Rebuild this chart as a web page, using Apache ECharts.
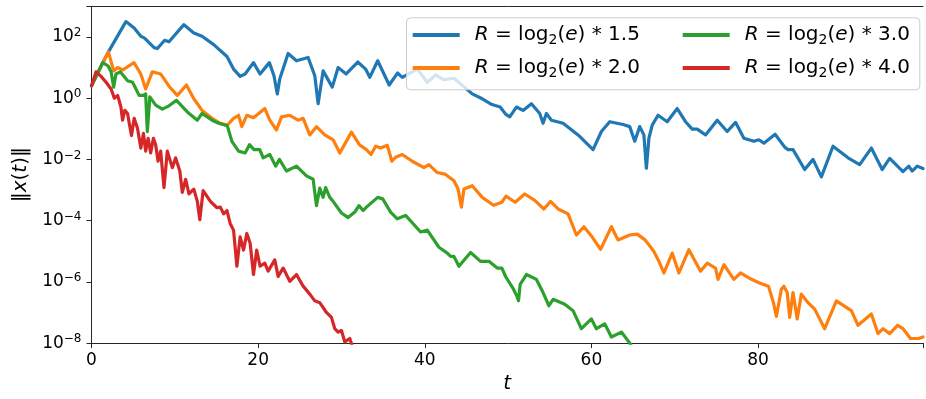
<!DOCTYPE html>
<html>
<head>
<meta charset="utf-8">
<script src="https://cdn.jsdelivr.net/npm/echarts@6/dist/echarts.min.js"></script>
<style>html,body{margin:0;padding:0;background:#fff}#c{width:926px;height:399px}</style>
</head>
<body>
<div id="c"></div>
<script>
// ---- data (t, log10 of ||x(t)||) ----
var seriesNames = ['R = log2(e) * 1.5', 'R = log2(e) * 2.0', 'R = log2(e) * 3.0', 'R = log2(e) * 4.0'];
var legendLabels = [
  '{p|R} = log{s|2}({i|e}) * 1.5',
  '{p|R} = log{s|2}({i|e}) * 2.0',
  '{p|R} = log{s|2}({i|e}) * 3.0',
  '{p|R} = log{s|2}({i|e}) * 4.0'
];
var xTicks = [0, 20, 40, 60, 80];
var yTickExponents = [-8, -6, -4, -2, 0, 2];

var tBlue = [0,1.35,2.03,4.13,5.12,5.92,6.32,6.64,7.51,7.91,8.78,9.3,11.09,12.28,13.27,14.67,16.26,17.05,17.84,18.44,19.44,20.23,21.35,21.9,22.3,22.6,23.6,24.6,26.0,26.8,27.2,27.8,28.9,29.6,30.57,31.96,32.9,33.4,34.35,35.73,36.73,37.3,39.1,40.3,41.3,42.3,43.5,45.7,46.9,48.06,49.05,49.7,50.2,51.0,51.8,52.8,53.8,54.2,54.6,55.2,56.6,58.4,60.2,61.2,62.2,63.8,64.6,65.2,65.8,66.3,66.6,66.9,67.3,68.0,69.1,70.3,71.3,72.1,72.7,73.7,75.1,76.3,77.3,78.3,79.5,80.1,80.7,82.05,83.2,83.6,84.2,85.6,86.6,87.6,89.0,90.8,92.2,93.6,94.9,95.8,97.4,98.1,98.5,99.1,99.8];
var logBlue = [0.40,1.16,1.51,2.50,2.29,2.02,1.97,1.89,1.65,1.62,1.89,1.84,2.40,2.13,2.02,1.75,1.36,0.95,0.71,0.79,1.16,0.79,1.16,0.73,0.14,0.63,1.46,1.22,1.33,0.73,-0.18,0.89,0.36,1.0,0.79,1.18,0.95,0.68,1.22,0.43,0.82,0.68,0.95,0.52,0.76,0.6,0.65,0.14,-0.02,-0.21,-0.29,-0.52,-0.61,-0.29,-0.40,-0.18,-0.5,-0.82,-0.5,-0.72,-0.82,-1.2,-1.68,-1.09,-0.77,-0.86,-0.93,-1.41,-0.93,-1.2,-2.29,-1.31,-0.88,-0.56,-0.77,-0.34,-0.77,-1.01,-1.01,-1.2,-0.72,-1.09,-0.79,-1.31,-1.41,-1.36,-1.47,-1.18,-1.6,-1.68,-1.68,-2.33,-2.0,-2.57,-1.57,-1.95,-2.17,-1.63,-2.33,-1.97,-2.4,-2.22,-2.38,-2.22,-2.3];

var tOrange = [0,1.35,2.03,2.66,3.14,3.73,5.1,5.92,6.5,7.3,8.3,9.3,10.3,11.4,12.28,13.27,14.47,15.46,16.3,17.05,17.65,18.04,18.64,19.44,20.8,21.4,22.2,22.8,23.8,24.8,25.4,26.2,27.0,28.0,29.0,29.8,31.2,32.15,33.0,33.55,34.1,34.7,35.5,36.05,36.5,37.3,38.5,39.9,40.5,41.5,42.5,43.5,44.0,44.4,44.7,45.7,46.9,48.25,49.25,49.75,50.85,52.0,53.2,54.3,55.1,56.0,57.2,58.2,59.1,60.0,61.1,62.4,63.2,64.6,65.5,66.4,66.9,67.5,68.1,68.7,69.7,70.5,71.7,73.1,73.9,74.9,75.2,75.9,77.1,77.9,79.1,80.1,81.25,81.85,82.2,82.8,83.1,83.5,83.8,84.2,84.7,85.2,86.0,86.8,88.0,89.4,91.2,92.0,93.6,94.4,95.0,95.8,96.75,97.4,98.3,99.3,99.8];
var logOrange = [0.40,1.16,1.51,0.89,1.0,0.92,1.16,0.79,0.30,0.86,0.79,0.39,0.09,0.43,-0.02,-0.40,-0.66,-0.82,-0.88,-0.66,-0.56,-0.93,-0.56,-0.64,-0.34,-0.72,-1.04,-0.61,-0.56,-0.72,-0.66,-1.2,-0.93,-1.2,-1.36,-1.79,-1.11,-1.52,-1.68,-1.84,-1.57,-1.63,-1.54,-2.06,-1.93,-1.84,-2.06,-2.27,-2.17,-2.43,-2.49,-2.70,-2.97,-3.56,-2.97,-2.86,-3.24,-3.5,-3.4,-3.2,-3.4,-3.13,-3.34,-3.62,-3.37,-3.62,-3.78,-4.47,-4.2,-4.5,-4.94,-4.2,-4.63,-4.47,-4.44,-4.62,-4.79,-5.01,-5.33,-5.71,-5.06,-5.71,-4.95,-5.65,-5.39,-5.55,-5.92,-5.44,-5.92,-5.71,-5.9,-6.03,-6.14,-6.68,-7.13,-6.24,-6.14,-6.35,-7.16,-6.35,-7.21,-6.4,-6.68,-6.89,-7.53,-6.62,-6.94,-7.42,-7.05,-7.69,-7.53,-7.69,-7.42,-7.53,-7.85,-7.85,-7.8];

var tGreen = [0,1.35,2.0,2.35,2.66,2.94,3.45,4.33,4.93,5.72,6.24,6.5,6.7,7.0,7.7,8.5,9.3,10.2,11.5,12.7,13.27,14.47,15.26,16.3,16.85,17.65,18.44,18.96,19.5,20.2,20.6,21.4,22.1,22.55,23.4,24.6,25.8,26.6,27.0,27.4,27.8,28.1,28.6,29.0,30.0,30.8,31.6,32.1,32.6,33.0,34.35,34.95,35.9,36.7,37.7,39.5,40.3,41.7,42.7,43.1,43.5,44.1,45.5,46.7,47.7,48.7,49.25,49.75,50.65,51.05,51.25,51.45,52.2,53.4,54.2,54.9,55.4,56.8,57.8,58.8,60.0,60.6,61.6,62.4,63.6,64.6,65.2];
var logGreen = [0.40,1.16,1.05,0.86,0.36,0.79,0.86,0.57,0.52,0.09,0.09,0.14,-1.09,0.04,-0.23,-0.36,-0.25,-0.07,-0.45,-0.72,-0.5,-0.72,-0.82,-0.9,-1.41,-1.73,-1.79,-1.52,-1.68,-1.68,-1.95,-1.84,-2.22,-2.0,-2.38,-2.22,-2.54,-2.65,-3.51,-2.94,-3.24,-2.92,-3.24,-3.37,-3.75,-3.9,-3.72,-3.51,-3.67,-3.56,-3.24,-3.29,-3.72,-3.94,-3.83,-4.37,-4.31,-4.87,-5.06,-5.17,-5.17,-5.49,-5.04,-5.33,-5.33,-5.55,-5.55,-5.85,-6.24,-6.46,-6.62,-6.08,-5.76,-5.92,-6.35,-6.78,-6.57,-6.73,-6.94,-7.53,-7.21,-7.53,-7.37,-7.8,-7.64,-8.0,-8.3];

var tRed = [0,0.55,1.15,1.75,2.35,2.74,3.14,3.53,3.73,4.0,4.33,4.53,4.8,5.12,5.52,5.92,6.24,6.5,6.8,7.1,7.43,7.7,7.99,8.3,8.7,9.1,9.7,10.1,10.6,10.9,11.3,11.7,12.28,12.7,13.0,13.4,14.27,15.06,15.46,15.86,16.26,16.65,17.05,17.45,17.84,18.25,18.64,19.04,19.44,19.83,20.23,20.8,21.2,22.0,22.4,23.0,23.8,24.6,25.4,26.2,26.8,27.4,28.2,28.8,29.2,29.6,30.0,30.4,31.0,31.3,31.6];
var logRed = [0.40,0.86,0.71,0.52,0.30,0.0,0.09,-0.29,-0.72,-0.40,-0.5,-0.82,-1.22,-0.66,-0.98,-1.63,-1.15,-1.73,-1.31,-1.79,-1.31,-1.52,-2.06,-1.73,-2.92,-1.73,-2.27,-1.95,-2.38,-3.08,-2.65,-3.13,-2.97,-3.37,-3.97,-3.02,-3.37,-3.58,-3.56,-3.78,-3.67,-4.1,-4.31,-5.49,-4.53,-4.96,-4.42,-4.74,-5.76,-4.96,-5.49,-5.39,-5.65,-5.28,-5.82,-5.55,-5.98,-5.76,-6.14,-6.40,-6.62,-6.68,-7.0,-7.16,-7.53,-7.64,-7.59,-7.96,-7.85,-8.1,-8.3];

var colors = ['#1f77b4', '#ff7f0e', '#2ca02c', '#d62728'];

function pairs(t, lg) { return t.map(function (x, i) { return [x, Math.pow(10, lg[i])]; }); }
var allData = [pairs(tBlue, logBlue), pairs(tOrange, logOrange), pairs(tGreen, logGreen), pairs(tRed, logRed)];

var FONT = 'DejaVu Sans';
var INK = '#262626';
var chart = echarts.init(document.getElementById('c'), null, { renderer: 'canvas' });

var legendRich = {
  p: { fontFamily: FONT, fontSize: 20, fontStyle: 'italic', lineHeight: 24, padding: [0, 0, 0, 10], color: '#000' },
  i: { fontFamily: FONT, fontSize: 20, fontStyle: 'italic', lineHeight: 24, color: '#000' },
  s: { fontFamily: FONT, fontSize: 14, lineHeight: 14, verticalAlign: 'bottom', color: '#000' }
};
function legendFmt(name) { return legendLabels[seriesNames.indexOf(name)]; }
function mkLegend(names, left) {
  return {
    show: true, orient: 'vertical', left: left, top: 23, padding: 0, itemGap: 9,
    itemWidth: 47, itemHeight: 4, z: 110, selectedMode: false,
    data: names.map(function (n) { return { name: n, icon: 'rect' }; }),
    formatter: legendFmt,
    textStyle: { fontFamily: FONT, fontSize: 20, lineHeight: 24, color: '#000', rich: legendRich }
  };
}

chart.setOption({
  animation: false,
  backgroundColor: '#fff',
  grid: { left: 91.5, right: -2.5, top: 6.3, bottom: 51.3, show: false },
  xAxis: [{
    type: 'value', min: 0, max: 99.8, interval: 20,
    name: 't', nameLocation: 'middle', nameGap: 30,
    nameTextStyle: { fontFamily: FONT, fontSize: 20, fontStyle: 'italic', color: '#000' },
    axisLine: { show: true, lineStyle: { color: INK, width: 1 } },
    axisTick: { show: true, inside: false, length: 5, lineStyle: { color: INK } },
    splitLine: { show: false },
    axisLabel: {
      fontFamily: FONT, fontSize: 17, color: '#000', margin: 9,
      formatter: function (v) { return xTicks.indexOf(Math.round(v * 1000) / 1000) >= 0 ? String(v) : ''; }
    }
  }, {
    type: 'value', position: 'top', min: 0, max: 99.8,
    axisLine: { show: true, onZero: false, lineStyle: { color: INK, width: 1 } },
    axisTick: { show: false }, axisLabel: { show: false }, splitLine: { show: false }
  }],
  yAxis: {
    type: 'log', logBase: 10, min: 1e-8, max: 1e3, interval: 2,
    name: '\u2016{i|x}({i|t})\u2016', nameLocation: 'middle', nameGap: 56, nameRotate: 90,
    nameTextStyle: { fontFamily: FONT, fontSize: 20, color: '#000', rich: { i: { fontFamily: FONT, fontSize: 20, fontStyle: 'italic', color: '#000' } } },
    axisLine: { show: true, lineStyle: { color: INK, width: 1 } },
    axisTick: { show: true, inside: false, length: 5, lineStyle: { color: INK } },
    splitLine: { show: false },
    minorTick: { show: false },
    axisLabel: {
      fontFamily: FONT, fontSize: 17, color: '#000', margin: 10,
      formatter: function (v) {
        var e = Math.round(Math.log10(v));
        if (yTickExponents.indexOf(e) < 0 || Math.abs(Math.log10(v) - e) > 1e-6) return '';
        return '{b|10}{sup|' + (e < 0 ? '\u2212' + (-e) : String(e)) + '}';
      },
      rich: {
        b: { fontFamily: FONT, fontSize: 17, lineHeight: 20, color: '#000' },
        sup: { fontFamily: FONT, fontSize: 12, lineHeight: 12, verticalAlign: 'top', color: '#000' }
      }
    }
  },
  legend: [mkLegend([seriesNames[0], seriesNames[1]], 412.7), mkLegend([seriesNames[2], seriesNames[3]], 682.7)],
  graphic: [{
    type: 'rect', z: 100, left: 406, top: 17.3,
    shape: { width: 513.3, height: 72, r: 4 },
    style: { fill: 'rgba(255,255,255,0.8)', stroke: '#cccccc', lineWidth: 1 }
  }],
  series: allData.map(function (d, k) {
    return {
      name: seriesNames[k], type: 'line', data: d, showSymbol: false, symbol: 'none',
      clip: true, z: 2 + k, xAxisIndex: 0,
      lineStyle: { color: colors[k], width: 3.2, join: 'round', cap: 'round' },
      itemStyle: { color: colors[k] }
    };
  })
});
</script>
</body>
</html>
